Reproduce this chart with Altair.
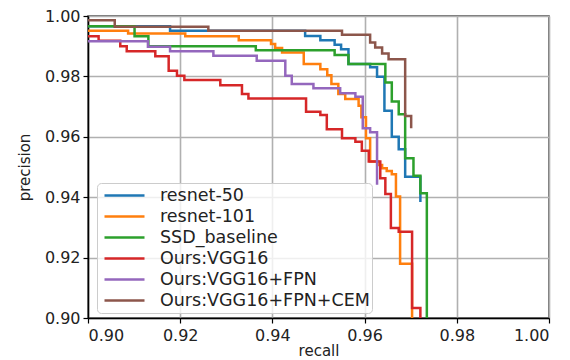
import altair as alt
import pandas as pd

series_names = ["resnet-50", "resnet-101", "SSD_baseline", "Ours:VGG16",
                "Ours:VGG16+FPN", "Ours:VGG16+FPN+CEM"]
series_colors = ["#1f77b4", "#ff7f0e", "#2ca02c", "#d62728", "#9467bd", "#8c564b"]

resnet50_recall = [0.9000, 0.9178, 0.9471, 0.9504, 0.9535, 0.9549, 0.9565, 0.9612,
                   0.9627, 0.9643, 0.9659, 0.9674, 0.9688, 0.9721]
resnet50_precision = [0.9966, 0.9951, 0.9934, 0.9920, 0.9905, 0.9890, 0.9841, 0.9830,
                      0.9799, 0.9686, 0.9600, 0.9559, 0.9468, 0.9384]

resnet101_recall = [0.9000, 0.9087, 0.9211, 0.9327, 0.9397, 0.9406, 0.9421, 0.9468,
                    0.9504, 0.9519, 0.9528, 0.9543, 0.9558, 0.9587, 0.9593, 0.9603,
                    0.9612, 0.9630, 0.9638, 0.9648, 0.9659, 0.9668, 0.9677, 0.9703]
resnet101_precision = [0.9951, 0.9942, 0.9933, 0.9920, 0.9907, 0.9894, 0.9879, 0.9841,
                       0.9824, 0.9804, 0.9775, 0.9742, 0.9725, 0.9703, 0.9665, 0.9595,
                       0.9518, 0.9507, 0.9496, 0.9487, 0.9476, 0.9402, 0.9180, 0.8900]

ssd_recall = [0.9000, 0.9101, 0.9131, 0.9364, 0.9535, 0.9565, 0.9645, 0.9659,
              0.9674, 0.9688, 0.9706, 0.9721, 0.9735]
ssd_precision = [0.9966, 0.9933, 0.9900, 0.9887, 0.9871, 0.9841, 0.9780, 0.9717,
                 0.9675, 0.9529, 0.9471, 0.9413, 0.8900]

vgg_recall = [0.9000, 0.9023, 0.9070, 0.9084, 0.9146, 0.9175, 0.9193, 0.9209,
              0.9287, 0.9334, 0.9348, 0.9473, 0.9504, 0.9518, 0.9551, 0.9580,
              0.9594, 0.9609, 0.9634, 0.9645, 0.9657, 0.9674, 0.9703, 0.9721]
vgg_precision = [0.9933, 0.9918, 0.9900, 0.9883, 0.9867, 0.9819, 0.9802, 0.9788,
                 0.9771, 0.9742, 0.9727, 0.9683, 0.9672, 0.9625, 0.9595, 0.9584,
                 0.9554, 0.9518, 0.9463, 0.9411, 0.9298, 0.9286, 0.9033, 0.8900]

fpn_recall = [0.9000, 0.9130, 0.9178, 0.9272, 0.9366, 0.9428, 0.9442, 0.9489,
              0.9547, 0.9580, 0.9596, 0.9612, 0.9627]
fpn_precision = [0.9916, 0.9898, 0.9883, 0.9868, 0.9852, 0.9802, 0.9775, 0.9761,
                 0.9744, 0.9733, 0.9628, 0.9615, 0.9441]

cem_recall = [0.9000, 0.9058, 0.9261, 0.9551, 0.9612, 0.9623, 0.9638, 0.9652,
              0.9688, 0.9701]
cem_precision = [0.9986, 0.9964, 0.9951, 0.9938, 0.9912, 0.9896, 0.9876, 0.9857,
                 0.9669, 0.9628]

tick_values = [0.90, 0.92, 0.94, 0.96, 0.98, 1.00]

curves = [
    (resnet50_recall, resnet50_precision),
    (resnet101_recall, resnet101_precision),
    (ssd_recall, ssd_precision),
    (vgg_recall, vgg_precision),
    (fpn_recall, fpn_precision),
    (cem_recall, cem_precision),
]

rows = []
for name, (rec, prec) in zip(series_names, curves):
    for i, (r, p) in enumerate(zip(rec, prec)):
        rows.append({"series": name, "idx": i, "recall": r, "precision": p})
df = pd.DataFrame(rows)

font = "DejaVu Sans"

chart = alt.Chart(df).mark_line(
    interpolate="step-after", strokeWidth=2.5, clip=True
).encode(
    x=alt.X("recall:Q",
            scale=alt.Scale(domain=[0.9, 1.0], nice=False, zero=False),
            axis=alt.Axis(values=tick_values, format=".2f", title="recall")),
    y=alt.Y("precision:Q",
            scale=alt.Scale(domain=[0.9, 1.0], nice=False, zero=False),
            axis=alt.Axis(values=tick_values, format=".2f", title="precision")),
    color=alt.Color("series:N",
                    scale=alt.Scale(domain=series_names, range=series_colors),
                    sort=series_names,
                    legend=alt.Legend(
                        title=None, orient="none", legendX=9, legendY=167,
                        symbolType="stroke", symbolSize=1600, symbolStrokeWidth=2.5,
                        labelFontSize=17.5, labelFont=font, labelColor="#222222",
                        labelLimit=400,
                        labelOffset=14, padding=2, rowPadding=0, clipHeight=21,
                        symbolOffset=4,
                        fillColor="rgba(255,255,255,0.8)", strokeColor="#cccccc",
                        cornerRadius=4)),
    order=alt.Order("idx:Q"),
).properties(
    width=461, height=302,
    autosize=alt.AutoSizeParams(type="none"),
    padding={"left": 80, "top": 8, "right": 13, "bottom": 44},
).configure_view(
    stroke="#444444", strokeWidth=1.5
).configure_axis(
    labelFont=font, titleFont=font, labelFontSize=16, titleFontSize=15,
    titleFontWeight="normal", labelColor="#222222", titleColor="#222222",
    domainColor="#000000", domainWidth=1.5, tickColor="#000000", tickSize=5,
    tickWidth=1.2, gridColor="#b0b0b0", gridWidth=1.6,
)

chart = chart.configure_axisY(titlePadding=12, labelPadding=3).configure_axisX(
    titlePadding=0, labelPadding=4)

chart.save("out.html", embed_options={"renderer": "svg", "actions": False})
